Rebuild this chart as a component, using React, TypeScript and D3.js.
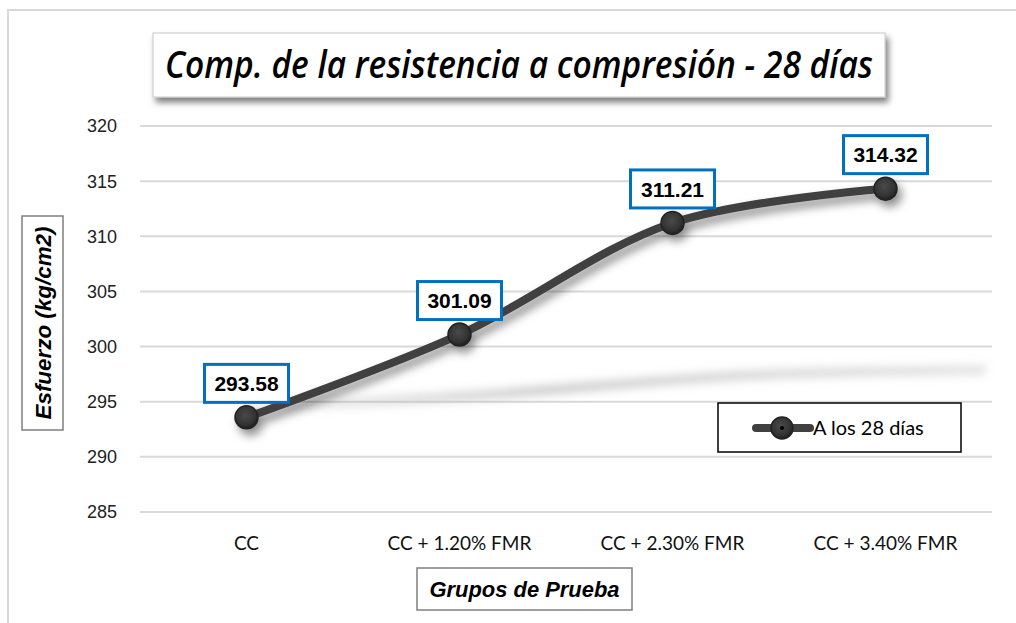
import React from "react";
import * as d3 from "d3";

const categories = ["CC", "CC + 1.20% FMR", "CC + 2.30% FMR", "CC + 3.40% FMR"];
const values = [293.58, 301.09, 311.21, 314.32];
const labels = ["293.58", "301.09", "311.21", "314.32"];
const yTicks = [285, 290, 295, 300, 305, 310, 315, 320];
const seriesName = "A los 28 días";
const title = "Comp. de la resistencia a compresión - 28 días";
const yTitle = "Esfuerzo (kg/cm2)";
const xTitle = "Grupos de Prueba";

export default function App() {
  const W = 1016, H = 623;
  const x0 = 140, x1 = 992;
  const x = d3.scaleBand().domain(categories).range([x0, x1]);
  const cx = (c: string) => (x(c) as number) + x.bandwidth() / 2;
  const y = d3.scaleLinear().domain([285, 320]).range([512, 126]);
  const pts: [number, number][] = categories.map((c, i) => [cx(c), y(values[i])]);
  const line = d3.line().curve(d3.curveCatmullRom.alpha(0.5));
  const path = line(pts) || "";
  // faint reflection of the series
  const yRef = d3.scaleLinear().domain([293.58, 314.32]).range([408, 370]);
  const xRef = d3.scaleLinear().domain([0, categories.length - 1]).range([0, 100]);
  const refPts: [number, number][] = categories.map((c, i) => [cx(c) + xRef(i), yRef(values[i])]);
  const refPath = line(refPts) || "";
  const sans = "'Liberation Sans', Arial, sans-serif";
  const cal = "Lato, 'Open Sans', sans-serif";

  return (
    <svg width={W} height={H} style={{ position: "absolute", left: 0, top: 0, background: "#fff" }}>
      <defs>
        <filter id="sh" x="-20%" y="-50%" width="140%" height="200%">
          <feDropShadow dx="4" dy="6" stdDeviation="5" floodColor="#000" floodOpacity="0.45" />
        </filter>
        <filter id="tsh" x="-5%" y="-30%" width="110%" height="170%">
          <feDropShadow dx="3" dy="5" stdDeviation="3" floodColor="#000" floodOpacity="0.5" />
        </filter>
        <filter id="blur" x="-20%" y="-100%" width="140%" height="300%">
          <feGaussianBlur stdDeviation="4" />
        </filter>
        <radialGradient id="mk" cx="45%" cy="40%" r="60%">
          <stop offset="0%" stopColor="#4a4a4a" />
          <stop offset="70%" stopColor="#333" />
          <stop offset="100%" stopColor="#1e1e1e" />
        </radialGradient>
        <linearGradient id="refg" x1="0" x2="1" y1="0" y2="0">
          <stop offset="0%" stopColor="#aaa" stopOpacity="0.15" />
          <stop offset="40%" stopColor="#aaa" stopOpacity="0.55" />
          <stop offset="100%" stopColor="#bbb" stopOpacity="0.4" />
        </linearGradient>
      </defs>
      {/* outer frame */}
      <rect x={8} y={10} width={1020} height={640} fill="none" stroke="#d9d9d9" strokeWidth={2} />

      {/* gridlines */}
      {yTicks.map((t) => (
        <line key={t} x1={x0} x2={x1} y1={y(t)} y2={y(t)} stroke="#d9d9d9" strokeWidth={2} />
      ))}
      {/* y tick labels */}
      {yTicks.map((t) => (
        <text key={"l" + t} x={117} y={y(t)} dy="0.36em" textAnchor="end" fontFamily={sans} fontSize={18} fill="#222">
          {t}
        </text>
      ))}
      {/* x labels */}
      {categories.map((c) => (
        <text key={c} x={cx(c)} y={543} dy="0.36em" textAnchor="middle" fontFamily={cal} fontSize={19} fill="#111">
          {c}
        </text>
      ))}

      {/* reflection */}
      <path d={refPath} fill="none" stroke="url(#refg)" strokeWidth={10} filter="url(#blur)" />

      {/* series */}
      <g filter="url(#sh)">
        <path d={path} fill="none" stroke="#404040" strokeWidth={8} strokeLinecap="round" />
        {pts.map(([px, py], i) => (
          <circle key={i} cx={px} cy={py} r={11.5} fill="url(#mk)" stroke="#222" strokeWidth={1.5} />
        ))}
      </g>

      {/* data labels */}
      {pts.map(([px, py], i) => (
        <g key={"d" + i}>
          <rect x={px - 42} y={py - 53} width={84} height={38} fill="#fff" stroke="#0070C0" strokeWidth={3} />
          <text x={px} y={py - 34} dy="0.36em" textAnchor="middle" fontFamily={sans} fontWeight="bold" fontSize={21} fill="#000">
            {labels[i]}
          </text>
        </g>
      ))}

      {/* title */}
      <rect x={153} y={33} width={732} height={64} fill="#fff" stroke="#c8c8c8" strokeWidth={1} filter="url(#tsh)" />
      <text x={165} y={78} textLength={708} lengthAdjust="spacingAndGlyphs" fontFamily="'Open Sans', sans-serif" fontStyle="italic" fontWeight={600} fontSize={38} fill="#000">
        {title}
      </text>

      {/* y title */}
      <rect x={22} y={216} width={41} height={214} fill="#fff" stroke="#7f7f7f" strokeWidth={1.5} />
      <text transform="translate(51,323) rotate(-90)" textAnchor="middle" textLength={193} lengthAdjust="spacingAndGlyphs" fontFamily={sans} fontStyle="italic" fontWeight="bold" fontSize={22} fill="#000">
        {yTitle}
      </text>

      {/* x title */}
      <rect x={417} y={568} width={215} height={42} fill="#fff" stroke="#7f7f7f" strokeWidth={1.5} />
      <text x={524.5} y={589} dy="0.36em" textAnchor="middle" textLength={190} lengthAdjust="spacingAndGlyphs" fontFamily={sans} fontStyle="italic" fontWeight="bold" fontSize={22} fill="#000">
        {xTitle}
      </text>

      {/* legend */}
      <rect x={718} y={403} width={243} height={49} fill="#fff" stroke="#000" strokeWidth={1.5} />
      <line x1={756} x2={810} y1={428} y2={428} stroke="#404040" strokeWidth={8} strokeLinecap="round" />
      <circle cx={782} cy={428} r={11} fill="url(#mk)" stroke="#222" strokeWidth={1.5} />
      <circle cx={782} cy={428} r={2} fill="#000" />
      <text x={813} y={428} dy="0.36em" fontFamily={cal} fontSize={20} fill="#000">
        {seriesName}
      </text>
    </svg>
  );
}
